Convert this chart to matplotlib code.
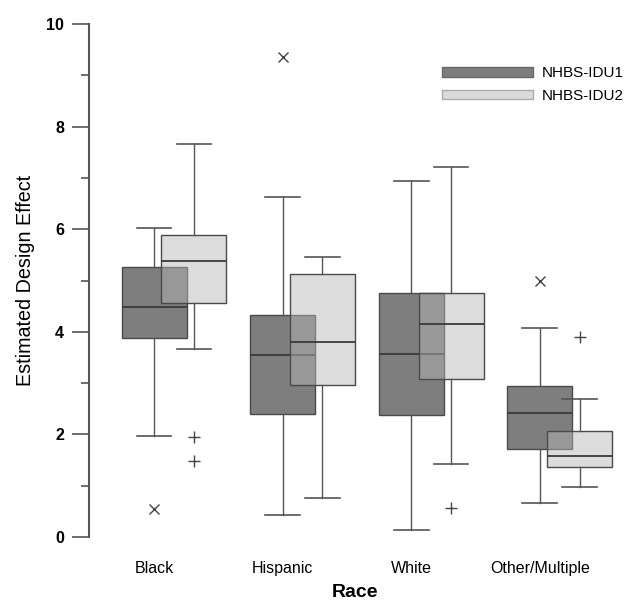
import matplotlib
matplotlib.use("Agg")
import matplotlib.pyplot as plt
from matplotlib.patches import Patch
from matplotlib.ticker import MultipleLocator

plt.rcParams['font.family'] = ['Liberation Sans', 'DejaVu Sans']

races = ["Black", "Hispanic", "White", "Other/Multiple"]

# IDU1 (dark) : whisker low, q1, median, q3, whisker high, outliers
idu1_whislo = [1.97, 0.43, 0.14, 0.66]
idu1_q1 = [3.88, 2.40, 2.38, 1.72]
idu1_med = [4.48, 3.55, 3.57, 2.42]
idu1_q3 = [5.26, 4.33, 4.75, 2.95]
idu1_whishi = [6.02, 6.63, 6.94, 4.08]
idu1_fliers = [[0.55], [9.36], [], [5.0]]

# IDU2 (light)
idu2_whislo = [3.66, 0.76, 1.42, 0.97]
idu2_q1 = [4.56, 2.96, 3.08, 1.37]
idu2_med = [5.38, 3.80, 4.15, 1.58]
idu2_q3 = [5.89, 5.13, 4.75, 2.07]
idu2_whishi = [7.66, 5.46, 7.21, 2.69]
idu2_fliers = [[1.95, 1.48], [], [0.57], [3.90]]


def make_stats(lo, q1, med, q3, hi, fl):
    return [dict(whislo=a, q1=b, med=c, q3=d, whishi=e, fliers=f)
            for a, b, c, d, e, f in zip(lo, q1, med, q3, hi, fl)]


dark = "#7e7e7e"
light = (0.714, 0.714, 0.714, 0.48)
line_c = "#555555"

fig = plt.figure(figsize=(6.25, 6.03), dpi=100)
ax = fig.add_axes([0.1424, 0.0839, 0.85, 0.9018])

pos1 = [1, 2, 3, 4]
pos2 = [p + 0.31 for p in pos1]

ax.bxp(make_stats(idu1_whislo, idu1_q1, idu1_med, idu1_q3, idu1_whishi, idu1_fliers),
       positions=pos1, widths=0.506, capwidths=0.27, patch_artist=True,
       boxprops=dict(facecolor=dark, edgecolor="#4a4a4a", linewidth=1.0),
       medianprops=dict(color="#3a3a3a", linewidth=1.3),
       whiskerprops=dict(color=line_c, linewidth=1.0),
       capprops=dict(color=line_c, linewidth=1.2),
       flierprops=dict(marker="x", markersize=7, markeredgecolor="#444444",
                       markeredgewidth=1.0),
       zorder=2)

ax.bxp(make_stats(idu2_whislo, idu2_q1, idu2_med, idu2_q3, idu2_whishi, idu2_fliers),
       positions=pos2, widths=0.506, capwidths=0.27, patch_artist=True,
       boxprops=dict(facecolor=light, edgecolor="#4a4a4a", linewidth=1.0),
       medianprops=dict(color="#3a3a3a", linewidth=1.3),
       whiskerprops=dict(color=line_c, linewidth=1.0),
       capprops=dict(color=line_c, linewidth=1.2),
       flierprops=dict(marker="+", markersize=8, markeredgecolor="#444444",
                       markeredgewidth=1.0),
       zorder=3)

ax.set_xlim(0.494, 4.626)
ax.set_ylim(-0.3, 10.3)
ax.set_xticks(pos1)
ax.set_xticklabels(races, fontsize=11.5)
ax.tick_params(axis="x", length=0, pad=6)

ax.yaxis.set_major_locator(MultipleLocator(2))
ax.yaxis.set_minor_locator(MultipleLocator(1))
ax.tick_params(axis="y", which="major", length=12, width=1.2, color=line_c,
               labelsize=11.5, pad=6)
ax.tick_params(axis="y", which="minor", length=6, width=1.2, color=line_c)
for lab in ax.get_yticklabels():
    lab.set_fontweight("bold")

for s in ["top", "right", "bottom"]:
    ax.spines[s].set_visible(False)
ax.spines["left"].set_bounds(0, 10)
ax.spines["left"].set_color(line_c)
ax.spines["left"].set_linewidth(1.5)

ax.set_ylabel("Estimated Design Effect", fontsize=14.2, labelpad=8)
ax.set_xlabel("Race", fontsize=14, fontweight="bold", labelpad=6)

handles = [Patch(facecolor=dark, edgecolor="#666666", linewidth=1.0),
           Patch(facecolor="#dadada", edgecolor="#aaaaaa", linewidth=1.0)]
ax.legend(handles, ["NHBS-IDU1", "NHBS-IDU2"], loc="upper right",
          bbox_to_anchor=(1.018, 0.905), frameon=False, fontsize=11,
          handlelength=5.9, handleheight=0.6, handletextpad=0.6,
          labelspacing=0.55, borderaxespad=0)

fig.savefig("out.png", dpi=100)
